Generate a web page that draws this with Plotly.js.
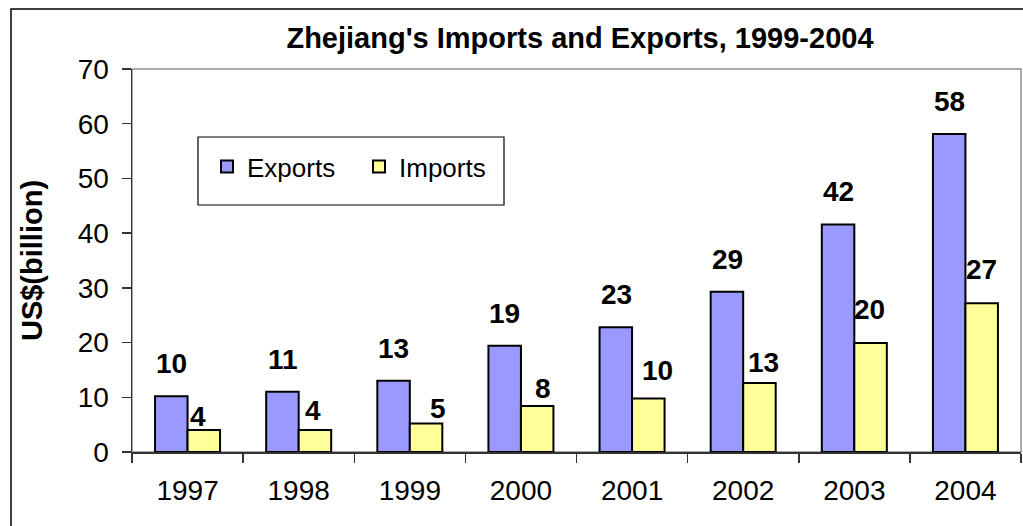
<!DOCTYPE html>
<html>
<head>
<meta charset="utf-8">
<script src="https://cdn.plot.ly/plotly-3.0.1.min.js"></script>
<style>html,body{margin:0;padding:0;background:#fff;}#chart{width:1023px;height:526px;}</style>
</head>
<body>
<div id="chart"></div>
<script>
// ---- data ----
const years = ['1997','1998','1999','2000','2001','2002','2003','2004'];
const exportsVals = [10.2, 11.0, 13.0, 19.4, 22.8, 29.3, 41.6, 58.1];
const importsVals = [4.0, 4.0, 5.2, 8.4, 9.8, 12.6, 19.9, 27.2];
const chartTitle = "Zhejiang's Imports and Exports, 1999-2004";
const yTitle = 'US$(billion)';
const seriesNames = ['Exports', 'Imports'];

// ---- label placement (style, not data) ----
const expLabelDy = 15;
const impLabelDy = [-4, 2, -2, 0, 10, 3, 16, 16];
const impLabelDx = [-6, -2, 12, 6, 9, 4, -1, 0];
const barHalf = 16;

const font = 'Liberation Sans, Arial, sans-serif';

const traces = [
  {type:'bar', name:seriesNames[0], x:years, y:exportsVals,
   marker:{color:'#9999FF', line:{color:'#000', width:2}}, hoverinfo:'none'},
  {type:'bar', name:seriesNames[1], x:years, y:importsVals,
   marker:{color:'#FFFF99', line:{color:'#000', width:2}}, hoverinfo:'none'}
];

// category axes place annotations by serial index
const annotations = [];
years.forEach((yr, i) => {
  annotations.push({x:i, y:exportsVals[i], xref:'x', yref:'y', text:String(Math.round(exportsVals[i])),
    showarrow:false, yanchor:'bottom', xshift:-barHalf, yshift:expLabelDy,
    font:{family:font, size:28, color:'#000', weight:700}});
  annotations.push({x:i, y:importsVals[i], xref:'x', yref:'y', text:String(Math.round(importsVals[i])),
    showarrow:false, yanchor:'bottom', xshift:barHalf + impLabelDx[i], yshift:impLabelDy[i],
    font:{family:font, size:28, color:'#000', weight:700}});
});

const W = 889, H = 383, L = 132, T = 69;
const px = v => (v - L) / W;
const py = v => (T + H - v) / H;

const layout = {
  width:1023, height:526,
  margin:{l:L, r:2, t:T, b:74, pad:0},
  paper_bgcolor:'#fff', plot_bgcolor:'#fff',
  font:{family:font, color:'#000'},
  title:{text:chartTitle, x:580/1023, xanchor:'center', xref:'container',
         y:1-38/526, yanchor:'middle', yref:'container',
         font:{family:font, size:29, weight:700, color:'#000'}},
  barmode:'group', bargap:0.415, bargroupgap:0,
  showlegend:true,
  legend:{orientation:'h', x:px(207), xanchor:'left', y:py(143), yanchor:'top',
          bgcolor:'rgba(0,0,0,0)', borderwidth:0, font:{family:font, size:26, color:'#000'},
          entrywidth:107, traceorder:'normal'},
  xaxis:{type:'category', range:[-0.5, 7.5], tickson:'boundaries', ticks:'outside', ticklen:9,
         tickcolor:'#333', tickwidth:1.5, showline:true, linecolor:'#333', linewidth:1.5,
         showgrid:false, zeroline:false, tickfont:{family:font, size:28, color:'#000'},
         ticklabelstandoff:13, fixedrange:true},
  yaxis:{range:[0,70], dtick:10, ticks:'outside', ticklen:9, tickcolor:'#333', tickwidth:1.5,
         showline:true, linecolor:'#333', linewidth:1.5, showgrid:false, zeroline:false,
         tickfont:{family:font, size:28, color:'#000'}, ticklabelstandoff:7,
         title:{text:yTitle, font:{family:font, size:29, weight:700, color:'#000'}, standoff:26},
         fixedrange:true},
  annotations:annotations,
  shapes:[
    {type:'rect', xref:'paper', yref:'paper', x0:0, x1:1, y0:0, y1:1, layer:'below',
     line:{color:'#909090', width:1.5}},
    {type:'rect', xref:'paper', yref:'paper', x0:px(198), x1:px(504), y0:py(205), y1:py(137),
     line:{color:'#000', width:1.2}, fillcolor:'#fff', layer:'below'},
    {type:'rect', xref:'paper', yref:'paper', x0:px(11), x1:1.2, y0:-0.5, y1:py(9),
     line:{color:'#000', width:1.5}, layer:'below'}
  ]
};

Plotly.newPlot('chart', traces, layout, {displayModeBar:false, staticPlot:true});
</script>
</body>
</html>
